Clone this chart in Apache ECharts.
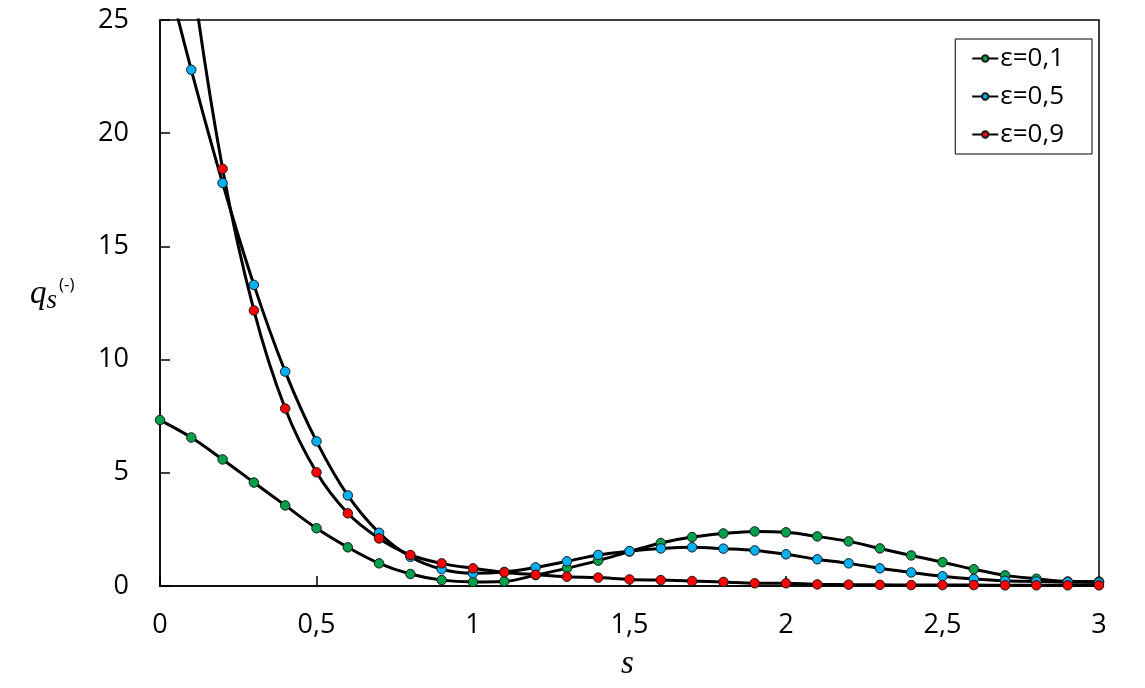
<!DOCTYPE html>
<html><head><meta charset="utf-8">
<script src="https://cdn.jsdelivr.net/npm/echarts@6/dist/echarts.min.js"></script>
<style>html,body{margin:0;padding:0;background:#fff}#c{width:1145px;height:688px}</style>
</head><body><div id="c"></div>
<script>
const sValues = [0,0.1,0.2,0.3,0.4,0.5,0.6,0.7,0.8,0.9,1.0,1.1,1.2,1.3,1.4,1.5,1.6,1.7,1.8,1.9,2.0,2.1,2.2,2.3,2.4,2.5,2.6,2.7,2.8,2.9,3.0];
const eps01 = [7.33,6.56,5.59,4.57,3.56,2.55,1.71,1.0,0.53,0.26,0.18,0.2,0.48,0.78,1.12,1.52,1.9,2.16,2.32,2.41,2.37,2.19,1.97,1.66,1.35,1.05,0.74,0.47,0.32,0.2,0.2];
const eps05 = [28.2,22.8,17.8,13.3,9.47,6.39,4.0,2.35,1.29,0.74,0.56,0.62,0.82,1.09,1.37,1.54,1.66,1.71,1.65,1.57,1.4,1.18,1.0,0.78,0.6,0.43,0.31,0.23,0.2,0.17,0.15];
const eps09 = [39.0,27.3,18.43,12.17,7.84,5.02,3.21,2.1,1.37,1.0,0.78,0.6,0.5,0.41,0.37,0.29,0.26,0.22,0.18,0.12,0.12,0.07,0.06,0.05,0.04,0.04,0.04,0.03,0.03,0.03,0.03];
const seriesNames = ['ε=0,1','ε=0,5','ε=0,9'];
const seriesColors = ['#00a04a','#00b0f0','#ff0000'];
const xTicks = [0,0.5,1,1.5,2,2.5,3];
const yTicks = [0,5,10,15,20,25];

const chart = echarts.init(document.getElementById('c'));
const fmt = v => String(v).replace('.', ',');
const allData = [eps01, eps05, eps09];
const FONT = 'Open Sans, Liberation Sans, sans-serif';
chart.setOption({
  animation: false,
  backgroundColor: '#fff',
  grid: {left: 160, right: 46, top: 20, bottom: 102, show: true, borderColor: '#000', borderWidth: 1.5},
  xAxis: {
    type: 'value', min: 0, max: 3, interval: 0.5,
    axisLine: {show: true, lineStyle: {color: '#000', width: 1.5}},
    axisTick: {show: true, inside: true, length: 10, lineStyle: {color: '#000', width: 1.5}},
    splitLine: {show: false},
    axisLabel: {color: '#000', fontSize: 27, fontFamily: FONT, margin: 26, formatter: fmt}
  },
  yAxis: {
    type: 'value', min: 0, max: 25, interval: 5,
    axisLine: {show: true, lineStyle: {color: '#000', width: 1.5}},
    axisTick: {show: true, inside: true, length: 10, lineStyle: {color: '#000', width: 1.5}},
    splitLine: {show: false},
    axisLabel: {color: '#000', fontSize: 27, fontFamily: FONT, margin: 31, formatter: fmt}
  },
  legend: {
    show: true, orient: 'vertical', right: 53, top: 39,
    backgroundColor: '#fff', borderColor: '#000', borderWidth: 1,
    padding: [6, 28, 6, 16], itemGap: 11, itemWidth: 26, itemHeight: 8,
    textStyle: {color: '#000', fontSize: 26, lineHeight: 27, fontFamily: FONT, padding: [0, 0, 0, -3]},
    data: seriesNames
  },
  series: allData.map((d, i) => ({
    name: seriesNames[i], type: 'line', smooth: 0.35, clip: true,
    data: sValues.map((s, j) => [s, d[j]]),
    symbol: 'circle', symbolSize: 9.5,
    lineStyle: {color: '#000', width: 3},
    itemStyle: {color: seriesColors[i], borderColor: '#1a1a1a', borderWidth: 1},
    emphasis: {disabled: true}
  })),
  graphic: [
    {type: 'text', left: 30, top: 277, style: {
      text: '{q|q}{s|s}{p|(-)}', rich: {
        q: {fontFamily: 'Liberation Serif, serif', fontStyle: 'italic', fontSize: 33, fill: '#000'},
        s: {fontFamily: 'Liberation Serif, serif', fontStyle: 'italic', fontSize: 27, fill: '#000', padding: [12, 0, 0, 0]},
        p: {fontFamily: FONT, fontSize: 17, fill: '#000', padding: [0, 0, 18, 2]}
      }}},
    {type: 'text', left: 621, top: 648, style: {
      text: 's', fontFamily: 'Liberation Serif, serif', fontStyle: 'italic', fontSize: 33, fill: '#000'}}
  ]
});
</script></body></html>
